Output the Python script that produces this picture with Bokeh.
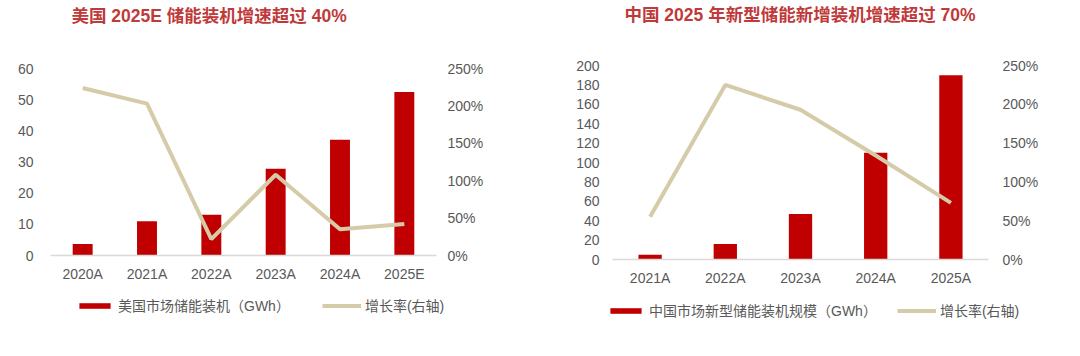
from bokeh.plotting import figure
from bokeh.models import (Range1d, LinearAxis, FixedTicker, NumeralTickFormatter,
                          Label, Legend, LegendItem, FactorRange)
from bokeh.layouts import row, column
from bokeh.embed import file_html
from bokeh.resources import INLINE

# ---- data ----
us_years = ["2020A", "2021A", "2022A", "2023A", "2024A", "2025E"]
us_install = [3.7, 11.0, 13.1, 27.8, 37.1, 52.5]
us_growth = [2.24, 2.03, 0.22, 1.08, 0.35, 0.42]

cn_years = ["2021A", "2022A", "2023A", "2024A", "2025A"]
cn_install = [5, 16, 47, 110, 190]
cn_growth = [0.55, 2.25, 1.93, 1.34, 0.73]

us_title = "美国 2025E 储能装机增速超过 40%"
cn_title = "中国 2025 年新型储能新增装机增速超过 70%"
us_bar_label = "美国市场储能装机（GWh）"
cn_bar_label = "中国市场新型储能装机规模（GWh）"
line_label = "增长率(右轴)"

FONT = "Liberation Sans, Noto Sans CJK SC"
BAR = "#c00000"
LINE = "#d5cba9"
TXT = "#595959"
TITLE_C = "#bf3a3a"

W = 540
H_TITLE = 40
H_MAIN = 250
H_LEG = 66


def strip(h, x_range, y_range):
    f = figure(width=W, height=h, x_range=x_range, y_range=y_range,
               x_axis_location=None, y_axis_location=None, output_backend="svg",
               toolbar_location=None, min_border=0)
    f.outline_line_color = None
    f.grid.visible = False
    return f


def make(years, inst, growth, ymax, ystep, title, bar_label,
         bl, br, bt, bb, ls_l, ls_r, title_x, title_cy, leg_x, leg_y, leg_spacing):
    # title strip
    tf = strip(H_TITLE, Range1d(0, 1), Range1d(0, 1))
    tf.add_layout(Label(x=title_x, y=H_TITLE - title_cy, x_units="screen", y_units="screen",
                        text=title, text_font=FONT, text_font_size="17.5px",
                        text_font_style="bold", text_color=TITLE_C,
                        text_baseline="middle"))

    # main chart
    p = figure(width=W, height=H_MAIN, x_range=FactorRange(*years, range_padding=0),
               y_range=Range1d(0, ymax), output_backend="svg", toolbar_location=None,
               min_border_left=bl, min_border_right=br, min_border_top=bt,
               min_border_bottom=bb)
    p.outline_line_color = None
    p.xgrid.grid_line_color = None
    p.ygrid.grid_line_color = None
    p.extra_y_ranges = {"pct": Range1d(0, 2.5)}

    p.vbar(x=years, top=inst, width=0.31, fill_color=BAR, line_color=None)
    p.line(x=years, y=growth, y_range_name="pct", line_color=LINE, line_width=4)

    ra = LinearAxis(y_range_name="pct")
    p.add_layout(ra, "right")

    for ax in [p.yaxis[0], ra, p.xaxis[0]]:
        ax.major_tick_line_color = None
        ax.minor_tick_line_color = None
        ax.major_tick_out = 0
        ax.major_tick_in = 0
        ax.minor_tick_out = 0
        ax.major_label_text_font = FONT
        ax.major_label_text_font_size = "14px"
        ax.major_label_text_color = TXT
    for ax in [p.yaxis[0], ra]:
        ax.axis_line_color = None
    p.yaxis[0].ticker = FixedTicker(ticks=list(range(0, ymax + 1, ystep)))
    p.yaxis[0].major_label_standoff = ls_l
    ra.ticker = FixedTicker(ticks=[0, 0.5, 1.0, 1.5, 2.0, 2.5])
    ra.formatter = NumeralTickFormatter(format="0%")
    ra.major_label_standoff = ls_r

    xa = p.xaxis[0]
    xa.axis_line_color = "#d9d9d9"
    xa.axis_line_width = 1.5
    xa.major_label_standoff = 10

    # legend strip: the series are attached but their factors are not on this
    # strip's range, so only the legend swatches are drawn
    lf = strip(H_LEG, FactorRange("legend"), Range1d(0, 1))
    rb = lf.vbar(x=years, top=inst, width=0.31, fill_color=BAR, line_color=None)
    rl = lf.line(x=years, y=growth, line_color=LINE, line_width=4)
    leg = Legend(items=[LegendItem(label=bar_label, renderers=[rb]),
                        LegendItem(label=line_label, renderers=[rl])],
                 orientation="horizontal", location=(leg_x, leg_y),
                 padding=0, margin=0, spacing=leg_spacing,
                 glyph_width=39, glyph_height=7, label_height=16,
                 label_standoff=4, border_line_color=None,
                 background_fill_alpha=0,
                 label_text_font=FONT, label_text_font_size="14px",
                 label_text_color=TXT)
    lf.add_layout(leg, "center")
    return column(column(tf), p, column(lf), spacing=0)


c1 = make(us_years, us_install, us_growth, 60, 10, us_title, us_bar_label,
          50, 104, 28, 35, 17, 11, 71, 15, 75, 41, 32)
c2 = make(cn_years, cn_install, cn_growth, 200, 20, cn_title, cn_bar_label,
          72, 92, 25, 31, 13, 14, 84, 14, 66, 36, 20)

layout = row(c1, c2, spacing=0)
open("out.html", "w").write(file_html(layout, INLINE))
